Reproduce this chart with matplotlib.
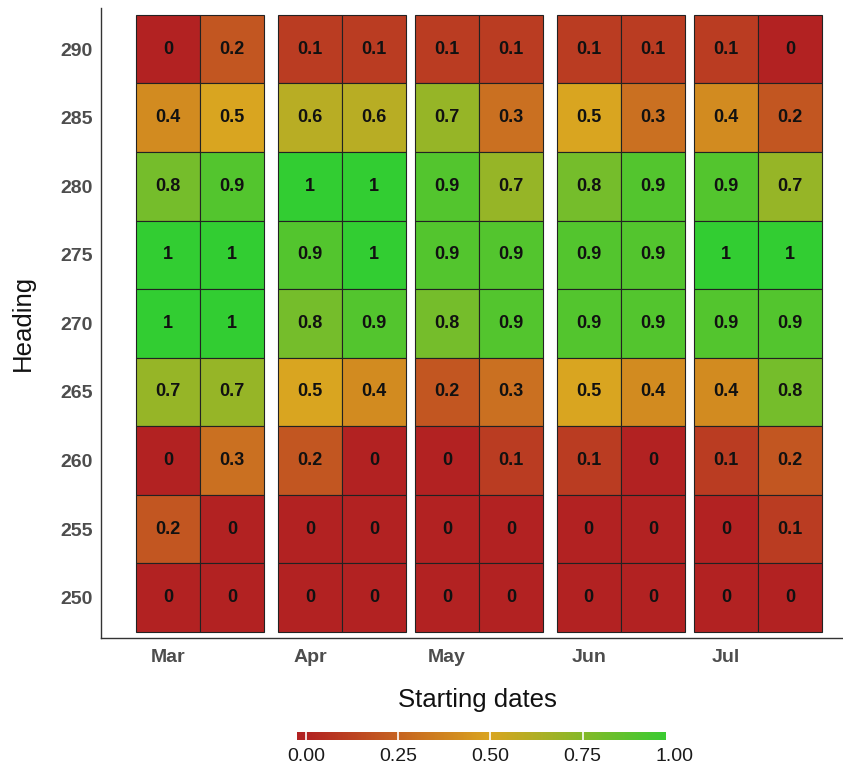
import datetime as dt
import numpy as np
import matplotlib
matplotlib.use("Agg")
import matplotlib.pyplot as plt
import matplotlib.dates as mdates
from matplotlib.colors import LinearSegmentedColormap, Normalize

plt.rcParams['font.family'] = ['Liberation Sans', 'DejaVu Sans']

# starting dates: 1st and 15th of each month, March to July
start_dates = [dt.datetime(2021, m, d) for m in range(3, 8) for d in (1, 15)]
headings = [290, 285, 280, 275, 270, 265, 260, 255, 250]

# one row per heading, one column per starting date
scores = [
    [0.0, 0.2, 0.1, 0.1, 0.1, 0.1, 0.1, 0.1, 0.1, 0.0],
    [0.4, 0.5, 0.6, 0.6, 0.7, 0.3, 0.5, 0.3, 0.4, 0.2],
    [0.8, 0.9, 1.0, 1.0, 0.9, 0.7, 0.8, 0.9, 0.9, 0.7],
    [1.0, 1.0, 0.9, 1.0, 0.9, 0.9, 0.9, 0.9, 1.0, 1.0],
    [1.0, 1.0, 0.8, 0.9, 0.8, 0.9, 0.9, 0.9, 0.9, 0.9],
    [0.7, 0.7, 0.5, 0.4, 0.2, 0.3, 0.5, 0.4, 0.4, 0.8],
    [0.0, 0.3, 0.2, 0.0, 0.0, 0.1, 0.1, 0.0, 0.1, 0.2],
    [0.2, 0.0, 0.0, 0.0, 0.0, 0.0, 0.0, 0.0, 0.0, 0.1],
    [0.0, 0.0, 0.0, 0.0, 0.0, 0.0, 0.0, 0.0, 0.0, 0.0],
]
legend_ticks = [0.0, 0.25, 0.5, 0.75, 1.0]

cmap = LinearSegmentedColormap.from_list(
    "rdylgn", ["#B22222", "#DAA520", "#32CD32"])
norm = Normalize(0, 1)

fig = plt.figure(figsize=(8.43, 7.66), dpi=100)
ax = fig.add_axes([101 / 843, 128 / 766, 742 / 843, 630 / 766])

xnum = mdates.date2num(start_dates)
for i, h in enumerate(headings):
    vals = np.array(scores[i])
    ax.bar(xnum, 5, width=14, bottom=h - 2.5, color=cmap(norm(vals)),
           edgecolor="#222222", linewidth=0.8)
    for x, v in zip(xnum, vals):
        ax.text(x, h, f"{v:g}", ha="center", va="center",
                fontsize=13, fontweight="bold", color="#111111")

ax.set_xlim(dt.datetime(2021, 2, 14, 8), dt.datetime(2021, 7, 26, 14))
ax.set_ylim(247.06, 293.0)
ax.xaxis.set_major_locator(mdates.MonthLocator())
ax.xaxis.set_major_formatter(mdates.DateFormatter("%b"))
ax.set_yticks(headings)
ax.tick_params(length=0, labelsize=14, labelcolor="#4D4D4D")
ax.tick_params(axis="x", pad=8)
ax.tick_params(axis="y", pad=6)
for lab in ax.get_xticklabels() + ax.get_yticklabels():
    lab.set_fontweight("bold")

for side in ("top", "right"):
    ax.spines[side].set_visible(False)
for side in ("left", "bottom"):
    ax.spines[side].set_color("#333333")
    ax.spines[side].set_linewidth(1.0)

ax.set_ylabel("Heading", fontsize=18.5, color="#111111")
ax.yaxis.set_label_coords((35 - 101) / 742, 0.5)
ax.set_xlabel("Starting dates", fontsize=18.5, color="#111111")
ax.xaxis.set_label_coords((477.5 - 101) / 742, -(688 - 638) / 630)

# horizontal colour bar underneath
cax = fig.add_axes([289 / 843, 26 / 766, 400 / 843, 8 / 766])
bar_lo, bar_hi = -0.0225, 0.975
grad = np.clip(np.linspace(bar_lo, bar_hi, 400), 0, 1).reshape(1, -1)
cax.imshow(grad, cmap=cmap, norm=norm, aspect="auto",
           extent=[bar_lo, bar_hi, 0, 1])
cax.vlines(legend_ticks[:-1], 0, 1, color="white", linewidth=1.2)
cax.set_xlim(-0.0455, 1.0385)
cax.set_ylim(0, 1)
cax.set_xticks(legend_ticks)
cax.set_xticklabels([f"{t:.2f}" for t in legend_ticks])
cax.set_yticks([])
cax.tick_params(length=0, labelsize=14, labelcolor="#1A1A1A", pad=6)
for s in cax.spines.values():
    s.set_visible(False)

fig.savefig("out.png", dpi=100)
